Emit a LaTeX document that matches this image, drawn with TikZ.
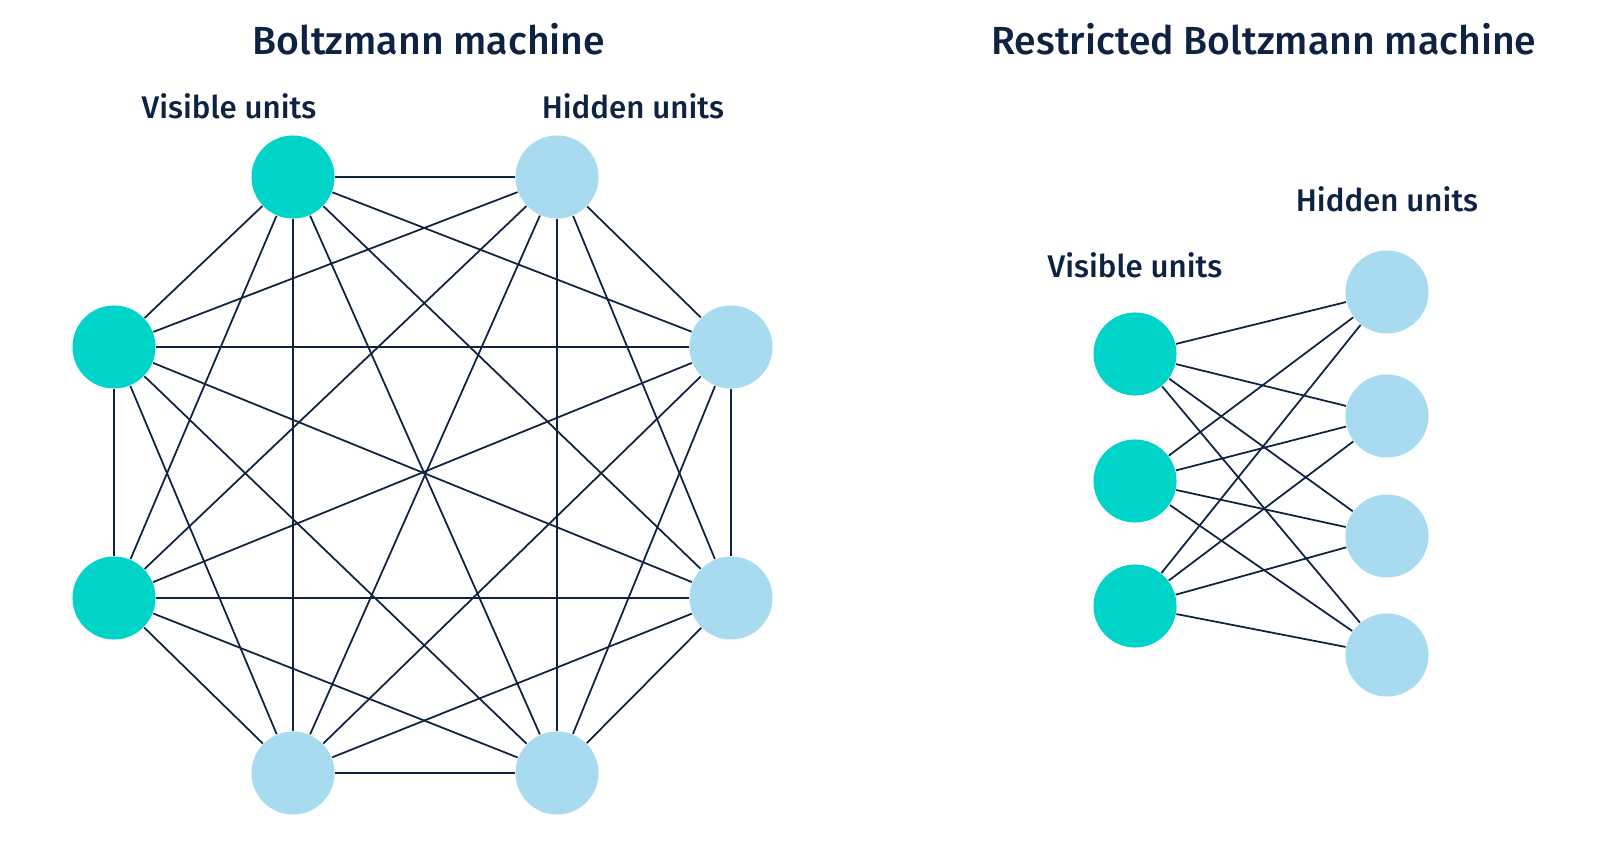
\documentclass[tikz,border=0pt]{standalone}
\usepackage{fontspec}
\setmainfont{Fira Sans}[BoldFont={Fira Sans Medium}]
\usepackage{tikz}
\newcommand{\unitSize}[0]{0.83cm}
\newcommand{\edgeWidth}[0]{0.5pt}
\newcommand{\titleFont}[0]{\fontsize{11.15}{14}\selectfont\bfseries}
\newcommand{\labelFont}[0]{\fontsize{8.9}{10}\selectfont\bfseries}
\definecolor{visibleteal}{HTML}{00D4C8}
\definecolor{hiddenblue}{HTML}{A8DBF0}
\definecolor{darknavy}{HTML}{0D2341}

\begin{document}
\begin{tikzpicture}[x=0.01cm, y=-0.01cm]
  \tikzset{visible unit/.style={circle, fill=visibleteal, minimum size=\unitSize, inner sep=0pt}}
  \tikzset{hidden unit/.style={circle, fill=hiddenblue, minimum size=\unitSize, inner sep=0pt}}
  \tikzset{unit edge/.style={darknavy, line width=\edgeWidth}}
  \tikzset{title text/.style={text=darknavy, font=\titleFont, anchor=base, inner sep=0pt}}
  \tikzset{label text/.style={text=darknavy, font=\labelFont, anchor=base, inner sep=0pt}}
  \useasboundingbox (0,0) rectangle (1600,843);
  \node[title text] (BM-title) at (429,55) {Boltzmann machine};
  \node[title text] (RBM-title) at (1264,55) {Restricted Boltzmann machine};
  \node[label text] (BM-visible) at (229,119) {Visible units};
  \node[label text] (BM-hidden) at (633,119) {Hidden units};
  \node[label text] (RBM-hidden) at (1387,212) {Hidden units};
  \node[label text] (RBM-visible) at (1135,278) {Visible units};
  \node[visible unit] (BV-1) at (293,177) {};
  \node[hidden unit] (BH-1) at (557,177) {};
  \node[hidden unit] (BH-2) at (731,347) {};
  \node[hidden unit] (BH-3) at (731,598) {};
  \node[hidden unit] (BH-4) at (557,773) {};
  \node[hidden unit] (BH-5) at (293,773) {};
  \node[visible unit] (BV-2) at (114,598) {};
  \node[visible unit] (BV-3) at (114,347) {};
  \node[visible unit] (RV-1) at (1135,354) {};
  \node[visible unit] (RV-2) at (1135,481) {};
  \node[visible unit] (RV-3) at (1135,606) {};
  \node[hidden unit] (RH-1) at (1387,292) {};
  \node[hidden unit] (RH-2) at (1387,416) {};
  \node[hidden unit] (RH-3) at (1387,536) {};
  \node[hidden unit] (RH-4) at (1387,655) {};
  \draw[unit edge] (BV-1) -- (BH-1);
  \draw[unit edge] (BV-1) -- (BH-2);
  \draw[unit edge] (BV-1) -- (BH-3);
  \draw[unit edge] (BV-1) -- (BH-4);
  \draw[unit edge] (BV-1) -- (BH-5);
  \draw[unit edge] (BV-1) -- (BV-2);
  \draw[unit edge] (BV-1) -- (BV-3);
  \draw[unit edge] (BH-1) -- (BH-2);
  \draw[unit edge] (BH-1) -- (BH-3);
  \draw[unit edge] (BH-1) -- (BH-4);
  \draw[unit edge] (BH-1) -- (BH-5);
  \draw[unit edge] (BH-1) -- (BV-2);
  \draw[unit edge] (BH-1) -- (BV-3);
  \draw[unit edge] (BH-2) -- (BH-3);
  \draw[unit edge] (BH-2) -- (BH-4);
  \draw[unit edge] (BH-2) -- (BH-5);
  \draw[unit edge] (BH-2) -- (BV-2);
  \draw[unit edge] (BH-2) -- (BV-3);
  \draw[unit edge] (BH-3) -- (BH-4);
  \draw[unit edge] (BH-3) -- (BH-5);
  \draw[unit edge] (BH-3) -- (BV-2);
  \draw[unit edge] (BH-3) -- (BV-3);
  \draw[unit edge] (BH-4) -- (BH-5);
  \draw[unit edge] (BH-4) -- (BV-2);
  \draw[unit edge] (BH-4) -- (BV-3);
  \draw[unit edge] (BH-5) -- (BV-2);
  \draw[unit edge] (BH-5) -- (BV-3);
  \draw[unit edge] (BV-2) -- (BV-3);
  \draw[unit edge] (RV-1) -- (RH-1);
  \draw[unit edge] (RV-1) -- (RH-2);
  \draw[unit edge] (RV-1) -- (RH-3);
  \draw[unit edge] (RV-1) -- (RH-4);
  \draw[unit edge] (RV-2) -- (RH-1);
  \draw[unit edge] (RV-2) -- (RH-2);
  \draw[unit edge] (RV-2) -- (RH-3);
  \draw[unit edge] (RV-2) -- (RH-4);
  \draw[unit edge] (RV-3) -- (RH-1);
  \draw[unit edge] (RV-3) -- (RH-2);
  \draw[unit edge] (RV-3) -- (RH-3);
  \draw[unit edge] (RV-3) -- (RH-4);
\end{tikzpicture}
\end{document}
